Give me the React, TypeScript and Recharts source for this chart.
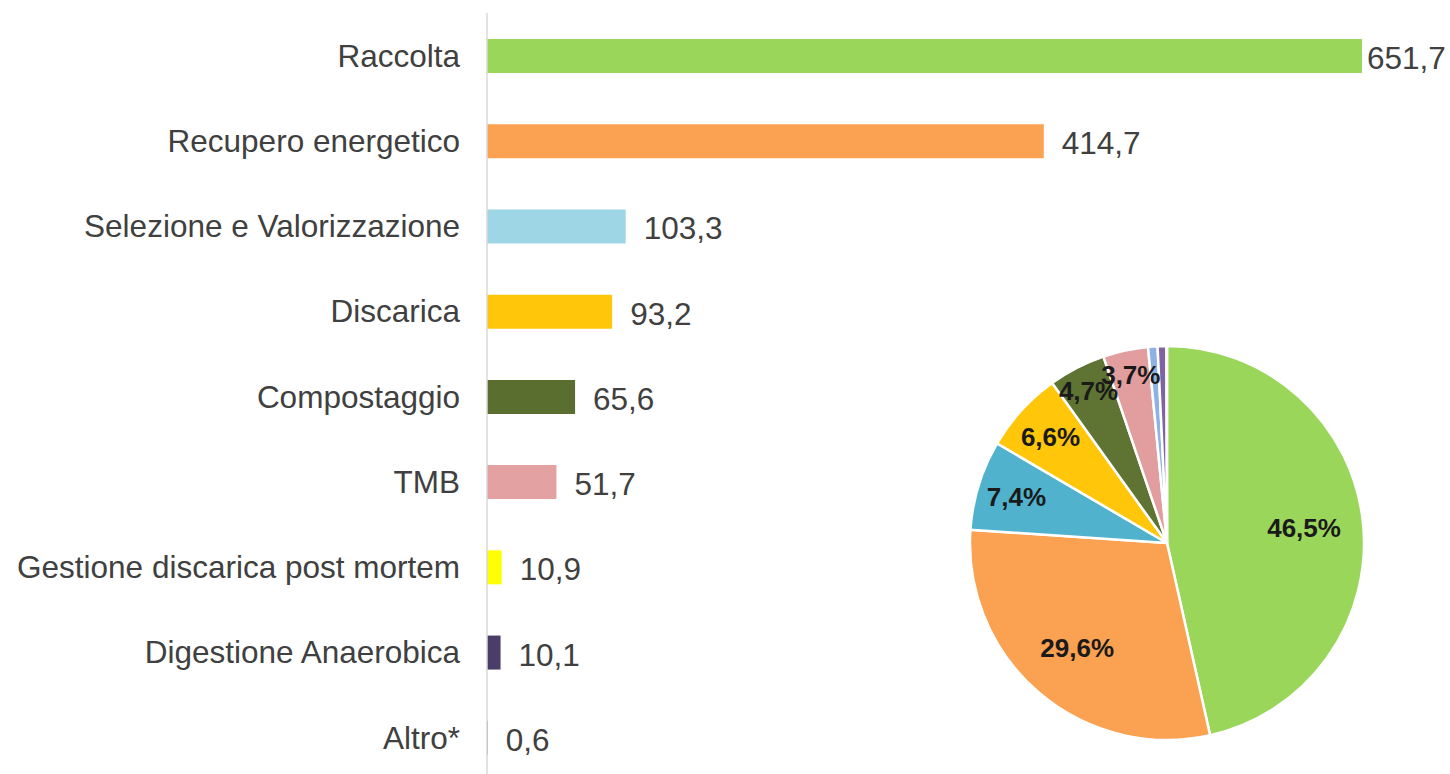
import { Bar, BarChart, Cell, LabelList, Pie, PieChart, XAxis, YAxis } from "recharts";

const categories = [
  "Raccolta",
  "Recupero energetico",
  "Selezione e Valorizzazione",
  "Discarica",
  "Compostaggio",
  "TMB",
  "Gestione discarica post mortem",
  "Digestione Anaerobica",
  "Altro*",
];
const values = [651.7, 414.7, 103.3, 93.2, 65.6, 51.7, 10.9, 10.1, 0.6];
const barColors = ["#9ad65a", "#fba152", "#9fd6e5", "#ffc60a", "#5a6e2f", "#e3a1a2", "#ffff00", "#4a3e68", "#8064a2"];
const pieColors = ["#9ad65a", "#fba152", "#50b2cc", "#ffc60a", "#5f7432", "#e29d9e", "#8db3e2", "#8064a2", "#4a3e68"];

const data = categories.map((name, i) => ({ name, value: values[i] }));

const font = "'Liberation Sans', Arial, sans-serif";
const fmt = (v: any) => Number(v).toFixed(1).replace(".", ",");

// value label right of the bar, pulled in when it would run off the page
function valueLabel(props: any) {
  const { x, y, width, height, value } = props;
  const tx = Math.min(x + width + 18, 1367);
  return (
    <text
      x={tx}
      y={y + height / 2 + 2}
      textAnchor="start"
      dominantBaseline="central"
      fill="#404040"
      fontSize={31.5}
      fontFamily={font}
    >
      {fmt(value)}
    </text>
  );
}

const RAD = Math.PI / 180;
function pieLabel(props: any) {
  const { cx, cy, midAngle, outerRadius, percent } = props;
  if (percent < 0.03) return null;
  const k = percent > 0.2 ? 0.7 : percent > 0.05 ? 0.8 : 0.87;
  const r = outerRadius * k;
  const x = cx + r * Math.cos(-midAngle * RAD);
  const y = cy + r * Math.sin(-midAngle * RAD);
  return (
    <text
      x={x}
      y={y}
      textAnchor="middle"
      dominantBaseline="central"
      fill="#1a1a1a"
      fontFamily={font}
      fontSize={26}
      fontWeight="bold"
    >
      {(percent * 100).toFixed(1).replace(".", ",") + "%"}
    </text>
  );
}

export default function App() {
  return (
    <div
      style={{
        position: "absolute",
        left: 0,
        top: 0,
        width: 1450,
        height: 774,
        overflow: "hidden",
        background: "#fff",
      }}
    >
      <BarChart
        width={1450}
        height={790}
        data={data}
        layout="vertical"
        margin={{ top: 13, right: 88, left: 0, bottom: 10 }}
      >
        <XAxis type="number" hide domain={[0, "dataMax"]} />
        <YAxis
          type="category"
          dataKey="name"
          width={487}
          tickLine={false}
          tickSize={0}
          tickMargin={27}
          axisLine={{ stroke: "#d9d9d9", strokeWidth: 1.5 }}
          tick={{ fill: "#404040", fontSize: 31.5, fontFamily: font }}
          interval={0}
        />
        <Bar dataKey="value" barSize={34} isAnimationActive={false}>
          {data.map((d, i) => (
            <Cell key={d.name} fill={barColors[i]} />
          ))}
          <LabelList dataKey="value" content={valueLabel} />
        </Bar>
      </BarChart>
      <div style={{ position: "absolute", left: 960, top: 336 }}>
        <PieChart width={414} height={414} margin={{ top: 0, right: 0, bottom: 0, left: 0 }}>
          <Pie
            data={data}
            dataKey="value"
            cx={207}
            cy={207}
            outerRadius={197}
            startAngle={90}
            endAngle={-270}
            stroke="#fff"
            strokeWidth={2.5}
            label={pieLabel}
            labelLine={false}
            isAnimationActive={false}
          >
            {data.map((d, i) => (
              <Cell key={d.name} fill={pieColors[i]} />
            ))}
          </Pie>
        </PieChart>
      </div>
    </div>
  );
}
